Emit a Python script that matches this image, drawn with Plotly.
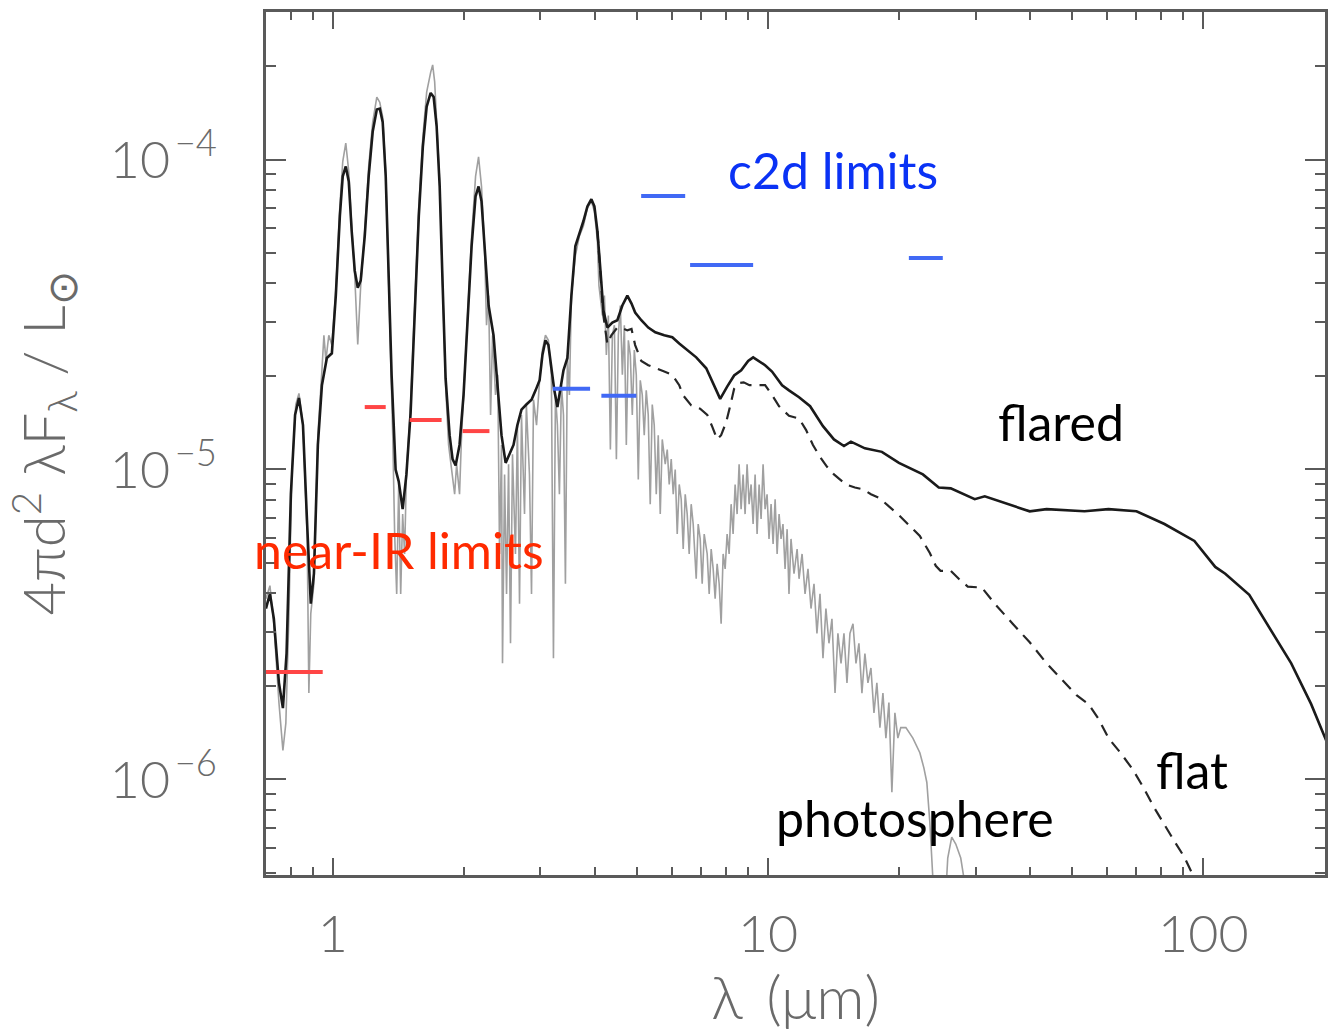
import plotly.graph_objects as go

# Model spectral energy distributions.
# Wavelengths in micron, fluxes in units of 1e-6 L_sun.
photo_wl = [
    0.702, 0.717, 0.732, 0.752, 0.768, 0.780, 0.793, 0.805, 0.822, 0.836,
    0.854, 0.873, 0.881, 0.890, 0.905, 0.924, 0.944, 0.954, 0.964, 0.979,
    0.995, 1.016, 1.038, 1.054, 1.071, 1.088, 1.105, 1.123, 1.141, 1.159,
    1.184, 1.209, 1.235, 1.262, 1.282, 1.302, 1.323, 1.344, 1.358, 1.373,
    1.387, 1.402, 1.417, 1.432, 1.447, 1.462, 1.476, 1.509, 1.542, 1.576,
    1.610, 1.643, 1.678, 1.696, 1.714, 1.732, 1.760, 1.788, 1.816, 1.845,
    1.875, 1.905, 1.925, 1.955, 1.976, 1.997, 2.040, 2.084, 2.128, 2.162,
    2.196, 2.231, 2.255, 2.280, 2.304, 2.328, 2.365, 2.393, 2.416, 2.441,
    2.454, 2.481, 2.507, 2.534, 2.560, 2.587, 2.628, 2.655, 2.685, 2.713,
    2.757, 2.784, 2.830, 2.861, 2.891, 2.938, 2.986, 3.031, 3.080, 3.128,
    3.178, 3.213, 3.247, 3.281, 3.316, 3.352, 3.388, 3.423, 3.459, 3.496,
    3.533, 3.608, 3.685, 3.764, 3.845, 3.927, 3.990, 4.054, 4.087,
    4.163, 4.207, 4.251, 4.296, 4.342, 4.388, 4.435, 4.482, 4.529, 4.577,
    4.626, 4.675, 4.724, 4.775, 4.825, 4.876, 4.928, 4.980, 5.033, 5.086,
    5.140, 5.194, 5.249, 5.305, 5.361, 5.419, 5.476, 5.535, 5.593, 5.653,
    5.713, 5.804, 5.866, 5.928, 5.991, 6.055, 6.119, 6.184, 6.250, 6.316,
    6.383, 6.451, 6.519, 6.588, 6.658, 6.729, 6.837, 6.909, 6.983, 7.057,
    7.132, 7.246, 7.323, 7.401, 7.479, 7.558, 7.638, 7.720, 7.801, 7.884,
    7.968, 8.052, 8.138, 8.224, 8.311, 8.400, 8.489, 8.579, 8.670, 8.762,
    8.855, 8.949, 9.045, 9.141, 9.239, 9.337, 9.436, 9.537, 9.637, 9.739,
    9.843, 9.947, 10.05, 10.16, 10.27, 10.38, 10.49, 10.60, 10.71, 10.82,
    10.94, 11.06, 11.17, 11.29, 11.47, 11.66, 11.78, 11.97, 12.16, 12.35,
    12.55, 12.75, 12.95, 13.16, 13.37, 13.58, 13.80, 14.02, 14.25, 14.47,
    14.71, 14.94, 15.18, 15.42, 15.67, 15.92, 16.17, 16.43, 16.69, 16.96,
    17.23, 17.51, 17.78, 18.07, 18.36, 18.65, 18.95, 19.25, 19.56, 19.87,
    20.18, 20.73, 21.51, 22.32, 22.80, 23.16, 23.53, 23.90, 24.15, 25.47,
    25.87, 26.42, 26.99, 27.71, 28.15, 28.45,
]
photo_f6 = [
    3.83, 4.22, 3.18, 1.77, 1.24, 1.52, 3.43, 9.64, 16.2, 17.6,
    13.9, 6.19, 1.90, 3.43, 4.28, 12.9, 20.9, 27.1, 22.5, 27.1,
    25.2, 37.8, 70.7, 98.5, 113.0, 91.5, 61.0, 42.2, 25.3, 39.2,
    58.8, 95.0, 132.0, 159.0, 153.0, 137.0, 91.5, 42.2, 25.2, 12.9,
    6.19, 3.97, 8.95, 3.97, 7.18, 5.34, 9.64, 16.2, 33.8, 70.7,
    118.0, 165.0, 191.0, 202.0, 178.0, 132.0, 85.0, 39.2, 18.7, 12.0,
    10.0, 8.32, 10.4, 8.32, 12.9, 17.4, 31.4, 56.6, 88.2, 102.0,
    81.9, 52.6, 29.2, 36.4, 15.0, 27.1, 17.4, 20.2, 5.34, 12.0,
    2.37, 9.64, 3.97, 10.4, 2.75, 11.2, 5.34, 13.9, 3.69, 15.0,
    7.18, 16.2, 9.64, 3.97, 16.8, 13.9, 19.4, 24.3, 27.1, 26.1,
    20.2, 2.46, 17.4, 13.9, 8.32, 18.7, 15.0, 4.28, 23.4, 17.4,
    36.4, 48.9, 56.6, 61.0, 69.7, 73.3, 68.1, 54.6, 39.2,
    31.4, 36.4, 23.4, 31.4, 11.6, 27.1, 29.2, 10.8, 27.1, 33.8,
    20.2, 29.2, 12.0, 26.1, 23.4, 15.0, 24.3, 20.2, 9.29, 19.4,
    17.4, 12.9, 18.0, 15.0, 7.73, 16.2, 13.9, 8.32, 12.9, 7.18,
    12.5, 10.4, 11.6, 8.95, 10.8, 8.32, 10.0, 6.19, 8.95, 8.02,
    5.54, 8.32, 7.18, 5.34, 7.73, 6.67, 4.44, 6.67, 5.97, 4.28,
    6.19, 5.34, 3.97, 5.54, 4.78, 3.83, 4.96, 4.28, 3.18, 5.34,
    4.78, 6.19, 5.34, 7.73, 6.19, 8.95, 7.18, 10.4, 7.45, 9.64,
    7.18, 10.4, 7.73, 8.95, 6.67, 9.64, 6.19, 8.95, 6.92, 10.4,
    7.45, 8.32, 5.97, 7.73, 5.75, 8.02, 5.34, 7.18, 5.97, 6.67,
    4.78, 6.42, 3.97, 5.97, 4.61, 5.54, 4.44, 5.34, 3.97, 4.78,
    3.56, 4.28, 2.96, 3.97, 2.46, 3.56, 2.75, 3.30, 1.90, 2.96,
    2.37, 2.96, 2.05, 2.96, 3.18, 2.37, 2.75, 1.90, 2.55, 2.05,
    2.29, 1.64, 2.05, 1.47, 1.90, 1.36, 1.77, 0.909, 1.64, 1.36,
    1.47, 1.47, 1.36, 1.22, 1.09, 0.978, 0.728, 0.485, 0.375, 0.375,
    0.558, 0.652, 0.619, 0.558, 0.485, 0.375,
]

flared_wl = [
    0.702, 0.717, 0.732, 0.752, 0.768, 0.783, 0.801, 0.819, 0.836, 0.854,
    0.873, 0.890, 0.905, 0.924, 0.944, 0.969, 0.995, 1.016, 1.038, 1.054,
    1.071, 1.088, 1.105, 1.123, 1.141, 1.159, 1.184, 1.209, 1.235, 1.262,
    1.282, 1.302, 1.323, 1.344, 1.365, 1.394, 1.417, 1.447, 1.476, 1.509,
    1.542, 1.576, 1.610, 1.643, 1.678, 1.705, 1.732, 1.760, 1.788, 1.816,
    1.855, 1.884, 1.915, 1.955, 1.997, 2.040, 2.084, 2.128, 2.162, 2.196,
    2.231, 2.280, 2.340, 2.393, 2.441, 2.495, 2.547, 2.601, 2.655, 2.713,
    2.784, 2.861, 2.923, 2.986, 3.031, 3.080, 3.128, 3.178, 3.228, 3.281,
    3.334, 3.388, 3.459, 3.533, 3.608, 3.685, 3.764, 3.845, 3.927, 3.990,
    4.054, 4.120, 4.184, 4.273, 4.387, 4.505, 4.626, 4.750, 4.856, 4.950,
    5.114, 5.306, 5.507, 5.774, 6.025, 6.250, 6.486, 6.838, 7.210, 7.479,
    7.762, 8.054, 8.356, 8.674, 9.000, 9.240, 9.537, 9.843, 10.21, 10.77,
    11.17, 11.78, 12.49, 13.37, 14.17, 14.94, 15.50, 16.69, 18.26, 19.98,
    22.68, 24.67, 26.28, 29.84, 31.46, 39.91, 43.64, 53.33, 60.54, 70.21,
    81.4, 95.37, 106.5, 112.3, 127.5, 142.5, 159.2, 176.9, 193.5,
]
flared_f6 = [
    3.56, 3.97, 3.30, 2.05, 1.70, 2.55, 8.32, 15.0, 17.0, 13.9,
    6.67, 3.69, 4.61, 12.0, 18.7, 22.9, 23.7, 36.4, 65.7, 88.3,
    95.0, 85.0, 58.8, 43.8, 38.6, 40.7, 56.6, 88.3, 123.0, 145.0,
    146.0, 132.0, 88.3, 45.4, 20.1, 10.0, 9.16, 7.45, 9.64, 15.2,
    31.4, 65.7, 110.0, 148.0, 164.0, 159.0, 128.0, 81.9, 39.2, 19.7,
    12.9, 10.8, 10.3, 12.0, 17.4, 29.2, 52.6, 76.1, 81.9, 73.3,
    52.6, 33.8, 27.1, 18.7, 12.9, 10.5, 11.2, 12.0, 13.9, 15.6,
    16.2, 16.8, 18.0, 19.4, 23.4, 26.1, 25.2, 20.9, 18.0, 15.9,
    18.0, 20.9, 22.9, 36.4, 52.6, 57.5, 63.2, 70.6, 74.5, 70.6,
    58.8, 43.8, 32.6, 28.7, 29.8, 30.3, 33.8, 36.4, 34.3, 32.1,
    30.3, 28.7, 27.7, 27.1, 26.7, 25.5, 24.4, 23.0, 21.2, 19.0,
    16.9, 18.5, 20.1, 20.9, 22.4, 23.0, 22.4, 21.7, 20.7, 18.7,
    18.0, 17.1, 16.0, 13.8, 12.5, 11.9, 12.3, 11.7, 11.4, 10.5,
    9.64, 8.75, 8.69, 8.02, 8.19, 7.33, 7.45, 7.33, 7.45, 7.33,
    6.67, 5.88, 4.85, 4.61, 3.94, 3.07, 2.37, 1.75, 1.29,
]

flat_wl = [
    4.054, 4.120, 4.184, 4.273, 4.364, 4.505, 4.600, 4.750, 4.856, 4.950,
    5.114, 5.306, 5.507, 5.774, 6.025, 6.250, 6.370, 6.660, 6.980, 7.250,
    7.450, 7.640, 7.800, 8.010, 8.190, 8.356, 8.570, 8.790, 9.060, 9.370,
    9.843, 10.21, 10.60, 11.17, 11.78, 12.23, 12.68, 13.15, 13.66, 14.17,
    15.10, 15.83, 16.52, 17.23, 18.07, 18.95, 19.98, 21.06, 22.32, 23.53,
    24.28, 24.90, 26.28, 27.42, 28.76, 30.97, 33.34, 36.47, 39.91, 43.64,
    48.00, 51.13, 54.47, 57.43, 60.54, 64.50, 68.75, 72.85, 76.80, 80.97,
    85.81, 90.45, 93.87, 97.39,
]
flat_f6 = [
    58.8, 42.2, 31.4, 25.4, 27.1, 28.7, 28.7, 28.1, 28.4, 25.2,
    22.4, 21.7, 21.2, 20.7, 20.2, 18.7, 17.4, 16.1, 15.7, 15.0,
    13.7, 12.5, 12.9, 14.2, 16.1, 18.2, 19.0, 19.1, 18.7, 18.7,
    18.7, 17.4, 16.0, 14.9, 14.6, 13.4, 12.0, 11.0, 10.2, 9.64,
    8.95, 8.75, 8.63, 8.32, 8.07, 7.60, 7.13, 6.62, 6.10, 5.38,
    4.89, 4.71, 4.71, 4.44, 4.19, 4.16, 3.66, 3.18, 2.77, 2.37,
    2.05, 1.87, 1.75, 1.57, 1.36, 1.22, 1.08, 0.942, 0.819, 0.722,
    0.632, 0.562, 0.504, 0.451,
]

# Photometric upper limits: band edges (micron) and level (L_sun)
nir_lo = [0.70, 1.184, 1.502, 1.987]
nir_hi = [0.948, 1.323, 1.778, 2.29]
nir_lim = [2.22e-6, 1.59e-5, 1.445e-5, 1.33e-5]

c2d_lo = [3.20, 4.14, 5.11, 6.62, 21.06]
c2d_hi = [3.90, 4.98, 6.45, 9.24, 25.2]
c2d_lim = [1.82e-5, 1.73e-5, 7.62e-5, 4.57e-5, 4.81e-5]

x_tickvals = [1, 10, 100]
x_ticktext = ["1", "10", "100"]
y_tickvals = [1e-6, 1e-5, 1e-4]
y_ticktext = ["10<sup>\u2009\u2212" + e + "</sup>" for e in ["6", "5", "4"]]

UNIT = 1e-6  # flux unit of the model arrays, in L_sun


def scaled(vals):
    return [v * UNIT for v in vals]


def segments(lo, hi, level):
    xs, ys = [], []
    for a, b, v in zip(lo, hi, level):
        xs += [a, b, None]
        ys += [v, v, None]
    return xs, ys


fig = go.Figure()

fig.add_trace(go.Scatter(
    x=photo_wl, y=scaled(photo_f6), mode="lines",
    line=dict(color="#a0a0a0", width=1.6), name="photosphere",
))
fig.add_trace(go.Scatter(
    x=flat_wl, y=scaled(flat_f6), mode="lines",
    line=dict(color="#262626", width=2.2, dash="12px,8px"), name="flat",
))
fig.add_trace(go.Scatter(
    x=flared_wl, y=scaled(flared_f6), mode="lines",
    line=dict(color="#1a1a1a", width=2.6), name="flared",
))

nx, ny = segments(nir_lo, nir_hi, nir_lim)
fig.add_trace(go.Scatter(
    x=nx, y=ny, mode="lines", line=dict(color="#ff4545", width=4),
    name="near-IR limits",
))
cx, cy = segments(c2d_lo, c2d_hi, c2d_lim)
fig.add_trace(go.Scatter(
    x=cx, y=cy, mode="lines", line=dict(color="#4169f5", width=4),
    name="c2d limits",
))

axis_grey = "#5a5a5a"
text_grey = "#6a6a6a"
tick_font = dict(family="Lato", size=52, color=text_grey, weight=300)
minor_x = [m * 10 ** e for e in range(-1, 3) for m in range(2, 10)]
minor_y = [m * 10 ** e for e in range(-7, -3) for m in range(2, 10)]

fig.update_xaxes(
    type="log", range=[-0.1535, 2.2795],
    tickmode="array", tickvals=x_tickvals, ticktext=x_ticktext,
    ticks="inside", ticklen=17, tickwidth=2, tickcolor=axis_grey,
    minor=dict(tickmode="array", tickvals=minor_x, ticks="inside",
               ticklen=8, tickwidth=2, tickcolor=axis_grey, showgrid=False),
    showline=True, linecolor=axis_grey, linewidth=2.5, mirror="allticks",
    showgrid=False, zeroline=False,
    tickfont=tick_font, ticklabelstandoff=12,
    title=dict(text="\u03bb\u2009 (\u03bcm)",
               font=dict(family="Lato", size=60, color=text_grey, weight=300),
               standoff=0),
)
fig.update_yaxes(
    type="log", range=[-6.3081, -3.5242],
    tickmode="array", tickvals=y_tickvals, ticktext=y_ticktext,
    ticks="inside", ticklen=20, tickwidth=2, tickcolor=axis_grey,
    minor=dict(tickmode="array", tickvals=minor_y, ticks="inside",
               ticklen=10, tickwidth=2, tickcolor=axis_grey, showgrid=False),
    showline=True, linecolor=axis_grey, linewidth=2.5, mirror="allticks",
    showgrid=False, zeroline=False,
    tickfont=tick_font, ticklabelstandoff=36,
    title=dict(text="4\u03c0d<sup>2</sup> \u03bbF<sub>\u03bb</sub> / L<sub>\u2299</sub>",
               font=dict(family="Lato", size=58, color=text_grey, weight=300),
               standoff=26),
)

label_font = dict(family="Lato", size=50)
labels = [
    ("c2d limits", 0.5358, 0.8169, "#0a32f5"),
    ("near-IR limits", 0.1252, 0.3766, "#ff2a00"),
    ("flared", 0.7505, 0.5249, "#000000"),
    ("photosphere", 0.6130, 0.0660, "#000000"),
    ("flat", 0.8748, 0.1217, "#000000"),
]
for text, px, py, col in labels:
    fig.add_annotation(
        text=text, x=px, y=py, xref="paper", yref="paper",
        xanchor="center", yanchor="middle", showarrow=False,
        font=dict(label_font, color=col),
    )

fig.update_layout(
    width=1330, height=1032, autosize=False,
    margin=dict(l=266, r=2, t=12, b=157),
    paper_bgcolor="white", plot_bgcolor="white",
    showlegend=False,
)

fig.write_html("out.html", config={"displayModeBar": False})
